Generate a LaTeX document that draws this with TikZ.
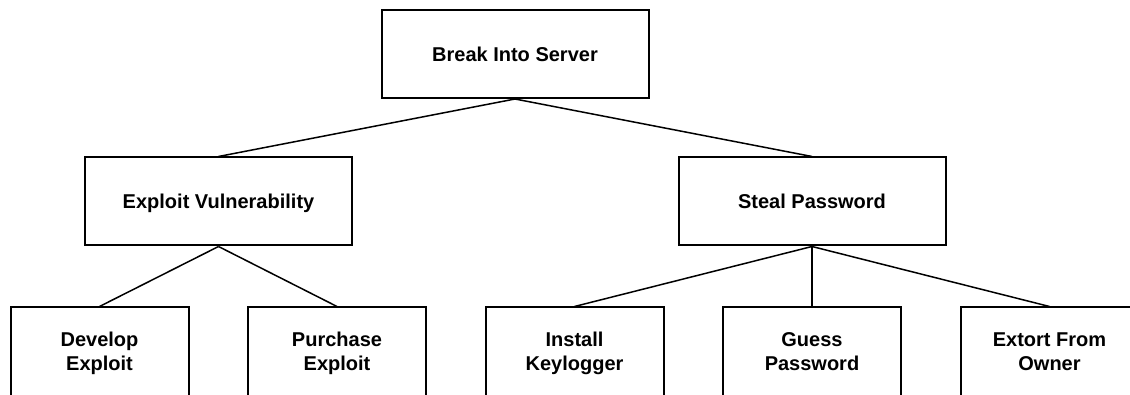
\documentclass[tikz,border=0pt]{standalone}
\usepackage{fontspec}
\setmainfont{Liberation Sans}
\usepackage{tikz}
\usetikzlibrary{positioning}

\begin{document}
\begin{tikzpicture}[x=1pt,y=-1pt,
    goal/.style={draw,line width=2pt,align=center,inner sep=0pt,
      minimum width=178pt,minimum height=88pt,
      text height=39.5pt,text depth=1.7pt,
      font=\fontsize{20}{23.5}\selectfont\bfseries},
    wide/.style={goal,minimum width=267pt,text height=16pt},
    link/.style={line width=1.5pt}]
  \useasboundingbox (0,0) rectangle (1130,395);
  %root
  \node[wide] (server) at (515,54) {Break Into Server};
  %second level
  \node[wide] (vuln) at (218.5,201.5) {Exploit Vulnerability};
  \node[wide] (steal) at (812,201.5) {Steal Password};
  %leaves
  \node[goal] (develop) at (99.5,351.5) {Develop\\Exploit};
  \node[goal] (purchase) at (337,351.5) {Purchase\\Exploit};
  \node[goal] (install) at (574.5,351.5) {Install\\Keylogger};
  \node[goal] (guess) at (812,351.5) {Guess\\Password};
  \node[goal] (extort) at (1049.5,351.5) {Extort From\\Owner};
  %edges
  \foreach \a/\b in {server/vuln,server/steal,vuln/develop,vuln/purchase,
      steal/install,steal/guess,steal/extort}
    \draw[link] (\a.south) -- (\b.north);
\end{tikzpicture}
\end{document}
